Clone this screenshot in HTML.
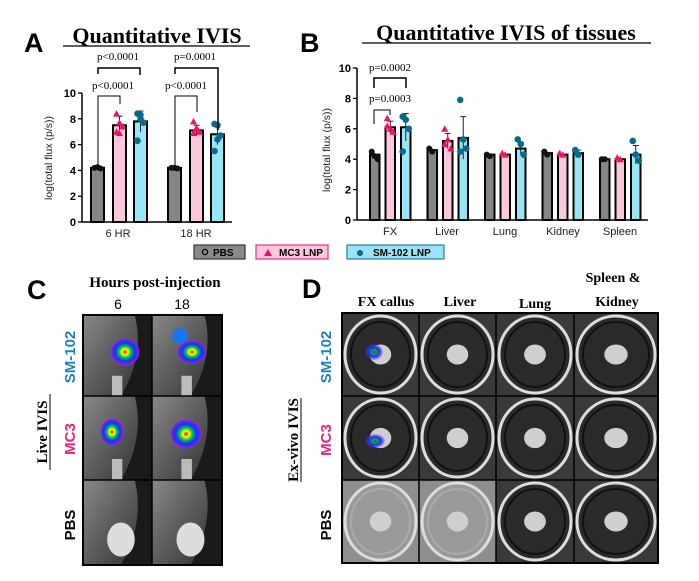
<!DOCTYPE html>
<html><head><meta charset="utf-8"><style>
html,body{margin:0;padding:0;background:#fff;}
svg{display:block;font-family:"Liberation Sans",sans-serif;}
.ser{font-family:"Liberation Serif",serif;font-weight:bold;}
</style></head><body>
<svg id="s" width="699" height="581" viewBox="0 0 699 581" xmlns="http://www.w3.org/2000/svg">
<defs>
<radialGradient id="heat"><stop offset="0" stop-color="#e00"/><stop offset="0.2" stop-color="#ff0"/><stop offset="0.4" stop-color="#0c4"/><stop offset="0.65" stop-color="#13f"/><stop offset="0.9" stop-color="#72d"/><stop offset="1" stop-color="#a4f" stop-opacity="0"/></radialGradient>
<radialGradient id="heat2"><stop offset="0" stop-color="#e00"/><stop offset="0.25" stop-color="#0a5"/><stop offset="0.6" stop-color="#13f"/><stop offset="1" stop-color="#72d" stop-opacity="0.2"/></radialGradient>
<linearGradient id="mouse" x1="0" y1="0" x2="1" y2="1"><stop offset="0" stop-color="#888"/><stop offset="0.6" stop-color="#555"/><stop offset="1" stop-color="#333"/></linearGradient>
</defs>
<text x="24" y="52" font-size="27" font-weight="bold">A</text>
<text x="157" y="43" class="ser" font-size="22" text-anchor="middle">Quantitative IVIS</text>
<line x1="63" y1="46" x2="250" y2="46" stroke="#000" stroke-width="1.3"/>
<text x="300" y="52" font-size="27" font-weight="bold">B</text>
<text x="506" y="40" class="ser" font-size="22" text-anchor="middle">Quantitative IVIS  of tissues</text>
<line x1="362" y1="43" x2="651" y2="43" stroke="#000" stroke-width="1.3"/>
<g id="A"></g><g id="B"></g>
<rect x="194" y="245" width="51" height="14" fill="#8a8a8a" stroke="#333" stroke-width="1.2"/>
<circle cx="205" cy="252" r="2.6" fill="none" stroke="#000" stroke-width="1.3"/>
<text x="213" y="256" font-size="10" font-weight="bold">PBS</text>
<rect x="256" y="245" width="72" height="14" fill="#fcc7dc" stroke="#e8337a" stroke-width="1.2"/>
<path d="M264 256 L268 249 L272 256Z" fill="#e8106a"/>
<text x="279" y="256" font-size="10" font-weight="bold">MC3 LNP</text>
<rect x="347" y="245" width="97" height="14" fill="#9ce4f4" stroke="#1f7aa8" stroke-width="1.2"/>
<circle cx="360" cy="253" r="3" fill="#0c6a8a"/>
<text x="373" y="256" font-size="10" font-weight="bold">SM-102 LNP</text>

<text x="27" y="299" font-size="27" font-weight="bold">C</text>
<text x="155" y="287" class="ser" font-size="15" text-anchor="middle">Hours post-injection</text>
<text x="118" y="309" font-size="14" text-anchor="middle">6</text>
<text x="182" y="309" font-size="14" text-anchor="middle">18</text>
<g id="C"></g>
<text transform="translate(75,357) rotate(-90)" font-size="15" font-weight="bold" fill="#1a82c0" text-anchor="middle">SM-102</text>
<text transform="translate(75,439) rotate(-90)" font-size="15" font-weight="bold" fill="#ee2277" text-anchor="middle">MC3</text>
<text transform="translate(75,525) rotate(-90)" font-size="15" font-weight="bold" text-anchor="middle">PBS</text>
<text transform="translate(47,432) rotate(-90)" class="ser" font-size="15" text-anchor="middle">Live IVIS</text>
<line x1="50" y1="394" x2="50" y2="470" stroke="#000" stroke-width="1"/>

<text x="302" y="298" font-size="27" font-weight="bold">D</text>
<text x="386" y="306" class="ser" font-size="14" text-anchor="middle">FX callus</text>
<text x="460" y="306" class="ser" font-size="14" text-anchor="middle">Liver</text>
<text x="535" y="308" class="ser" font-size="14" text-anchor="middle">Lung</text>
<text x="613" y="282" class="ser" font-size="14" text-anchor="middle">Spleen &amp;</text>
<text x="617" y="306" class="ser" font-size="14" text-anchor="middle">Kidney</text>
<g id="D"></g>
<text transform="translate(331,357) rotate(-90)" font-size="15" font-weight="bold" fill="#1a82c0" text-anchor="middle">SM-102</text>
<text transform="translate(331,440) rotate(-90)" font-size="15" font-weight="bold" fill="#ee2277" text-anchor="middle">MC3</text>
<text transform="translate(331,525) rotate(-90)" font-size="15" font-weight="bold" text-anchor="middle">PBS</text>
<text transform="translate(298,440) rotate(-90)" class="ser" font-size="15" text-anchor="middle">Ex-vivo IVIS</text>
<line x1="301" y1="398" x2="301" y2="482" stroke="#000" stroke-width="1"/>
</svg>
<script>
const NS="http://www.w3.org/2000/svg";
function el(p,t,a,txt){const e=document.createElementNS(NS,t);for(const k in a)e.setAttribute(k,a[k]);if(txt!==undefined)e.textContent=txt;p.appendChild(e);return e;}
const fills=["#858585","#fcc7dc","#96e6f6"];
function marker(g,i,x,y){
 if(i==0)el(g,"circle",{cx:x,cy:y,r:3,fill:"#111"});
 else if(i==1)el(g,"path",{d:`M${x-3.5} ${y+3} L${x} ${y-3.5} L${x+3.5} ${y+3}Z`,fill:"#ee1166"});
 else el(g,"circle",{cx:x,cy:y,r:3.3,fill:"#0b6a8a"});
}
function chart(g,x0,x1,y0,sc,groups,labels,lblX,bw,ylab,yl){
 el(g,"line",{x1:x0,y1:y0,x2:x1,y2:y0,stroke:"#000","stroke-width":1.5});
 el(g,"line",{x1:x0,y1:y0,x2:x0,y2:y0-10*sc,stroke:"#000","stroke-width":1.5});
 for(let v=0;v<=10;v+=2){const y=y0-v*sc;el(g,"line",{x1:x0-4,y1:y,x2:x0,y2:y,stroke:"#000","stroke-width":1.3});
  el(g,"text",{x:x0-6,y:y+4,"font-size":11,"font-weight":"bold","text-anchor":"end"},v);}
 el(g,"text",{transform:`translate(${ylab},${yl}) rotate(-90)`,"font-size":10.5,"text-anchor":"middle",fill:"#222"},"log(total flux (p/s))");
 groups.forEach(gr=>gr.forEach(([x,v,pts,err],i)=>{
  const y=y0-v*sc;
  el(g,"rect",{x:x,y:y,width:bw,height:y0-y,fill:fills[i],stroke:"#000","stroke-width":2});
  if(err){el(g,"line",{x1:x+bw/2,y1:y-err*sc,x2:x+bw/2,y2:y+err*sc,stroke:"#222","stroke-width":1});
   el(g,"line",{x1:x+bw/2-3,y1:y-err*sc,x2:x+bw/2+3,y2:y-err*sc,stroke:"#222"});}
  pts.forEach((p,k)=>marker(g,i,x+bw/2+((k%3)-1)*3,y0-p*sc));
 }));
 labels.forEach((l,k)=>el(g,"text",{x:lblX[k],y:y0+15,"font-size":11,"text-anchor":"middle",fill:"#222"},l));
}
const A=document.getElementById("A");
chart(A,82,232,222,12.9,[
 [[91,4.2,[4.2,4.25,4.15],0],[113,7.5,[8.4,7.7,7.4,7.0,6.9],0.7],[134,7.8,[8.4,8.3,7.7,6.3,8.0],0.8]],
 [[168,4.2,[4.2,4.2,4.15],0],[190,7.1,[7.8,7.3,7.0,6.9,7.2],0.4],[211,6.8,[7.6,7.5,6.7,5.5,6.4],0.8]]
],["6 HR","18 HR"],[118,196],13,52,158);
function br(g,x1,x2,y,yl1,yl2,t,tx,ty,w){
 el(g,"path",{d:`M${x1} ${yl1} V${y} H${x2} V${yl2}`,fill:"none",stroke:"#000","stroke-width":w});
 el(g,"text",{x:tx,y:ty,"font-size":11,"text-anchor":"middle","font-family":"Liberation Serif,serif"},t);
}
br(A,98,140,68,74,75,"p<0.0001",118,60,1.5);
br(A,98,120,96,170,104,"p<0.0001",113,89,1);
br(A,175,218,68,74,130,"p=0.0001",195,60,1.5);
br(A,175,197,96,170,112,"p<0.0001",186,89,1);
const B=document.getElementById("B");
const d=[[4.3,6.1,6.1],[4.6,5.2,5.4],[4.3,4.3,4.7],[4.4,4.3,4.4],[4.0,4.0,4.3]];
const pts=[[[4.5,4.2,4.0],[6.7,6.0,5.8,6.2],[6.8,6.6,6.0,4.5]],[[4.7,4.5],[6.0,5.3,4.7,5.0],[7.9,5.3,4.7,4.5]],[[4.3,4.2],[4.4,4.3],[5.3,5.0,4.3]],[[4.5,4.3],[4.4,4.3],[4.6,4.3]],[[4.0,4.0],[4.1,4.0],[5.2,4.3,3.9]]];
const er=[[0,0.4,0.9],[0,0.5,1.4],[0,0,0.4],[0,0,0.2],[0,0,0.6]];
const gg=d.map((row,k)=>row.map((v,i)=>[370+k*57.5+i*15.5,v,pts[k][i],er[k][i]]));
chart(B,357,648,220,15.2,gg,["FX","Liver","Lung","Kidney","Spleen"],[390,447,505,563,620],9.5,330,150);
br(B,374,406,78,88,88,"p=0.0002",390,71,1.5);
br(B,374,390,110,124,115,"p=0.0003",390,102,1);
const C=document.getElementById("C");
const cx=[83,152,222],cy=[315,396,480,565];
for(let r=0;r<3;r++)for(let c=0;c<2;c++){
 const x=cx[c],y=cy[r],w=cx[c+1]-x,h=cy[r+1]-y;
 el(C,"rect",{x:x,y:y,width:w,height:h,fill:"#1a1a1a"});
 el(C,"path",{d:`M${x} ${y} H${x+w*0.75} Q${x+w*0.9} ${y+h*0.5} ${x+w*0.55} ${y+h} H${x}Z`,fill:"url(#mouse)"});
 if(r==2)el(C,"ellipse",{cx:x+w*0.55,cy:y+h*0.7,rx:w*0.2,ry:h*0.2,fill:"#ddd"});
 else el(C,"rect",{x:x+w*0.42,y:y+h*0.75,width:w*0.15,height:h*0.25,fill:"#bbb"});
}
el(C,"ellipse",{cx:125,cy:352,rx:15,ry:14,fill:"url(#heat)"});
el(C,"ellipse",{cx:192,cy:352,rx:15,ry:12,fill:"url(#heat)"});
el(C,"circle",{cx:180,cy:336,r:8,fill:"#1877e8"});
el(C,"ellipse",{cx:112,cy:432,rx:12,ry:14,fill:"url(#heat)"});
el(C,"ellipse",{cx:186,cy:434,rx:16,ry:15,fill:"url(#heat)"});
el(C,"rect",{x:83,y:315,width:139,height:250,fill:"none",stroke:"#000","stroke-width":2});
el(C,"line",{x1:152,y1:315,x2:152,y2:565,stroke:"#000","stroke-width":1.5});
el(C,"line",{x1:83,y1:396,x2:222,y2:396,stroke:"#000","stroke-width":1.5});
el(C,"line",{x1:83,y1:480,x2:222,y2:480,stroke:"#000","stroke-width":1.5});
const D=document.getElementById("D");
const dx=[342,419,496,574,658],dy=[313,396,480,563];
for(let r=0;r<3;r++)for(let c=0;c<4;c++){
 const x=dx[c],y=dy[r],w=dx[c+1]-x,h=dy[r+1]-y;
 const light=r==2&&c<2;
 el(D,"rect",{x:x,y:y,width:w,height:h,fill:light?"#8e8e8e":"#3a3a3a"});
 el(D,"ellipse",{cx:x+w/2,cy:y+h/2,rx:w/2-3,ry:h/2-3,fill:light?"#999":"#2a2a2a",stroke:"#ddd","stroke-width":3});
 el(D,"ellipse",{cx:x+w/2,cy:y+h/2,rx:w/2-9,ry:h/2-9,fill:"none",stroke:light?"#aaa":"#111","stroke-width":2});
 el(D,"ellipse",{cx:x+w/2,cy:y+h/2,rx:w*0.14,ry:h*0.12,fill:"#cfcfcf"});
}
el(D,"ellipse",{cx:374,cy:352,rx:9,ry:8,fill:"url(#heat2)"});
el(D,"ellipse",{cx:375,cy:441,rx:10,ry:7,fill:"url(#heat2)"});
el(D,"rect",{x:342,y:313,width:316,height:250,fill:"none",stroke:"#000","stroke-width":2});
[419,496,574].forEach(x=>el(D,"line",{x1:x,y1:313,x2:x,y2:563,stroke:"#000","stroke-width":1.5}));
[396,480].forEach(y=>el(D,"line",{x1:342,y1:y,x2:658,y2:y,stroke:"#000","stroke-width":1.5}));
</script>
</body></html>
